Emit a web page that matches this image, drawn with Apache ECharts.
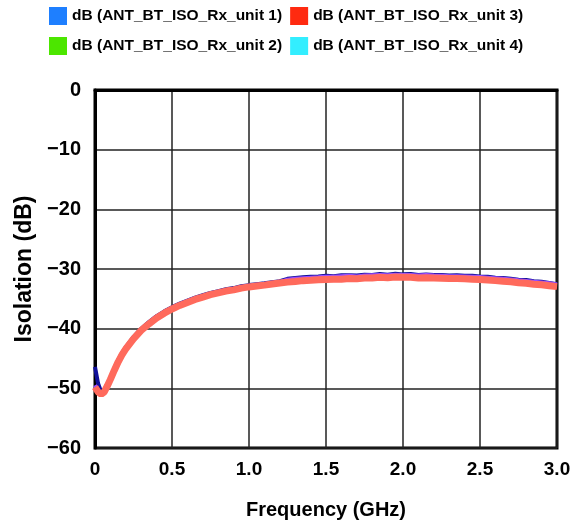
<!DOCTYPE html>
<html>
<head>
<meta charset="utf-8">
<script src="https://cdn.jsdelivr.net/npm/echarts@6/dist/echarts.min.js"></script>
<style>html,body{margin:0;padding:0;background:#fff}#c{width:580px;height:525px}</style>
</head>
<body>
<div id="c"></div>
<script>
var seriesNames = ['dB (ANT_BT_ISO_Rx_unit 1)','dB (ANT_BT_ISO_Rx_unit 2)','dB (ANT_BT_ISO_Rx_unit 3)','dB (ANT_BT_ISO_Rx_unit 4)'];
var freq = [0,0.02,0.04,0.06,0.08,0.10,0.125,0.15,0.175,0.20,
 0.25,0.30,0.35,0.40,0.45,0.50,0.55,0.60,0.65,0.70,
 0.75,0.80,0.85,0.90,0.95,1.00,1.05,1.10,1.15,1.20,
 1.25,1.30,1.35,1.40,1.45,1.50,1.55,1.60,1.65,1.70,
 1.75,1.80,1.85,1.90,1.95,2.00,2.05,2.10,2.15,2.20,
 2.25,2.30,2.35,2.40,2.45,2.50,2.55,2.60,2.65,2.70,
 2.75,2.80,2.85,2.90,2.95,3.00];
var unit1 = [-46.4,-49.2,-50.6,-50.4,-49.4,-48.2,-46.7,-45.3,-44.1,-43.1,
 -41.4,-40.0,-38.9,-37.9,-37.1,-36.4,-35.8,-35.3,-34.8,-34.4,
 -34.0,-33.7,-33.4,-33.2,-32.9,-32.7,-32.55,-32.4,-32.2,-32.05,
 -31.65,-31.5,-31.4,-31.3,-31.25,-31.15,-31.2,-31.05,-31.05,-31.1,
 -30.95,-31.0,-30.85,-30.95,-30.8,-30.9,-30.85,-31.0,-30.9,-31.0,
 -31.0,-31.1,-31.05,-31.15,-31.15,-31.25,-31.3,-31.45,-31.5,-31.65,
 -31.8,-31.85,-32.05,-32.15,-32.35,-32.55];
var unit2 = [-49.5,-50.4,-50.9,-50.5,-49.5,-48.3,-46.8,-45.4,-44.2,-43.2,
 -41.5,-40.1,-39.0,-38.0,-37.2,-36.5,-35.9,-35.4,-34.9,-34.5,
 -34.1,-33.8,-33.5,-33.3,-33.0,-32.8,-32.65,-32.5,-32.3,-32.15,
 -31.8,-31.65,-31.55,-31.45,-31.4,-31.3,-31.3,-31.2,-31.15,-31.25,
 -31.1,-31.05,-31.0,-31.05,-30.95,-31.0,-31.0,-31.1,-31.0,-31.1,
 -31.15,-31.2,-31.2,-31.25,-31.3,-31.35,-31.45,-31.55,-31.65,-31.75,
 -31.9,-32.0,-32.15,-32.25,-32.4,-32.6];
var unit3 = [-49.8,-50.6,-51.0,-50.6,-49.6,-48.5,-47.0,-45.6,-44.4,-43.4,
 -41.7,-40.3,-39.2,-38.2,-37.4,-36.7,-36.1,-35.6,-35.1,-34.7,
 -34.3,-34.0,-33.7,-33.5,-33.2,-33.0,-32.85,-32.7,-32.5,-32.35,
 -32.2,-32.1,-31.95,-31.9,-31.8,-31.75,-31.7,-31.7,-31.6,-31.65,
 -31.5,-31.5,-31.4,-31.45,-31.35,-31.4,-31.4,-31.5,-31.45,-31.5,
 -31.55,-31.6,-31.6,-31.65,-31.7,-31.75,-31.85,-31.95,-32.05,-32.15,
 -32.3,-32.4,-32.55,-32.65,-32.8,-32.95];
var unit4 = [-49.9,-50.7,-51.1,-50.7,-49.7,-48.6,-47.1,-45.7,-44.5,-43.5,
 -41.8,-40.4,-39.3,-38.3,-37.5,-36.8,-36.2,-35.7,-35.2,-34.8,
 -34.4,-34.1,-33.8,-33.6,-33.3,-33.1,-32.95,-32.8,-32.6,-32.45,
 -32.3,-32.2,-32.05,-32.0,-31.9,-31.85,-31.8,-31.8,-31.7,-31.75,
 -31.6,-31.6,-31.5,-31.55,-31.45,-31.5,-31.5,-31.6,-31.55,-31.6,
 -31.65,-31.7,-31.7,-31.75,-31.8,-31.85,-31.95,-32.05,-32.15,-32.25,
 -32.4,-32.5,-32.65,-32.75,-32.9,-33.05];
var xTickValues = [0,0.5,1.0,1.5,2.0,2.5,3.0];
var xTickLabels = ['0','0.5','1.0','1.5','2.0','2.5','3.0'];
var yTickValues = [-60,-50,-40,-30,-20,-10,0];
var yTickLabels = ['\u221260','\u221250','\u221240','\u221230','\u221220','\u221210','0'];

var FONT = '"Liberation Sans",Arial,sans-serif';
var legendColors = ['#1e7fff','#4ce600','#ff2a10','#33eeff'];
var lineColors = ['#10109a','#9a4cff','#ff6a5c','#ff6a5c'];
var lineWidths = [4,4,7,3];

function pairs(arr){ return freq.map(function(f,i){ return [f, arr[i]]; }); }
function lookup(vals, labels, v){
  for (var i=0;i<vals.length;i++){ if (Math.abs(vals[i]-v)<1e-6) return labels[i]; }
  return '';
}
var datasets = [unit1, unit2, unit3, unit4];
var drawOrder = [3,0,1,2];
var series = drawOrder.map(function(k){
  return {
    name: seriesNames[k], type:'line', data: pairs(datasets[k]),
    symbol:'none', smooth:false, animation:false,
    itemStyle:{color: legendColors[k]},
    lineStyle:{color: lineColors[k], width: lineWidths[k]},
    z: 2 + drawOrder.indexOf(k)
  };
});
function legendItem(k){ return {name: seriesNames[k], itemStyle:{color: legendColors[k]}}; }
var legendText = {fontFamily: FONT, fontWeight:'bold', fontSize:15.5, color:'#000'};

var chart = echarts.init(document.getElementById('c'), null, {renderer:'canvas'});
chart.setOption({
  backgroundColor:'#fff',
  animation:false,
  legend:[
    {left:49, top:7, itemWidth:18, itemHeight:18, itemGap:8, icon:'rect', selectedMode:false, padding:0,
     data:[legendItem(0), legendItem(2)], textStyle: legendText},
    {left:49, top:37, itemWidth:18, itemHeight:18, itemGap:8, icon:'rect', selectedMode:false, padding:0,
     data:[legendItem(1), legendItem(3)], textStyle: legendText}
  ],
  grid:{left:95, right:23, top:90, bottom:76, show:true, borderColor:'#000', borderWidth:3, containLabel:false},
  xAxis:{
    type:'value', min:0, max:3.0, interval:0.5,
    name:'Frequency (GHz)', nameLocation:'middle', nameGap:52,
    nameTextStyle:{fontFamily:FONT, fontWeight:'bold', fontSize:20, color:'#000'},
    axisLine:{show:true, lineStyle:{color:'#000', width:3}},
    axisTick:{show:false},
    axisLabel:{margin:12, fontFamily:FONT, fontWeight:'bold', fontSize:19, color:'#000',
      formatter:function(v){ return lookup(xTickValues, xTickLabels, v); }},
    splitLine:{show:true, lineStyle:{color:'#222', width:1.5}}
  },
  yAxis:{
    type:'value', min:-60, max:0, interval:10,
    name:'Isolation (dB)', nameLocation:'middle', nameGap:54, nameRotate:90,
    nameTextStyle:{fontFamily:FONT, fontWeight:'bold', fontSize:23, color:'#000'},
    axisLine:{show:true, lineStyle:{color:'#000', width:3}},
    axisTick:{show:false},
    axisLabel:{margin:14, fontFamily:FONT, fontWeight:'bold', fontSize:20, color:'#000',
      formatter:function(v){ return lookup(yTickValues, yTickLabels, v); }},
    splitLine:{show:true, lineStyle:{color:'#222', width:1.5}}
  },
  series: series
});
</script>
</body>
</html>
